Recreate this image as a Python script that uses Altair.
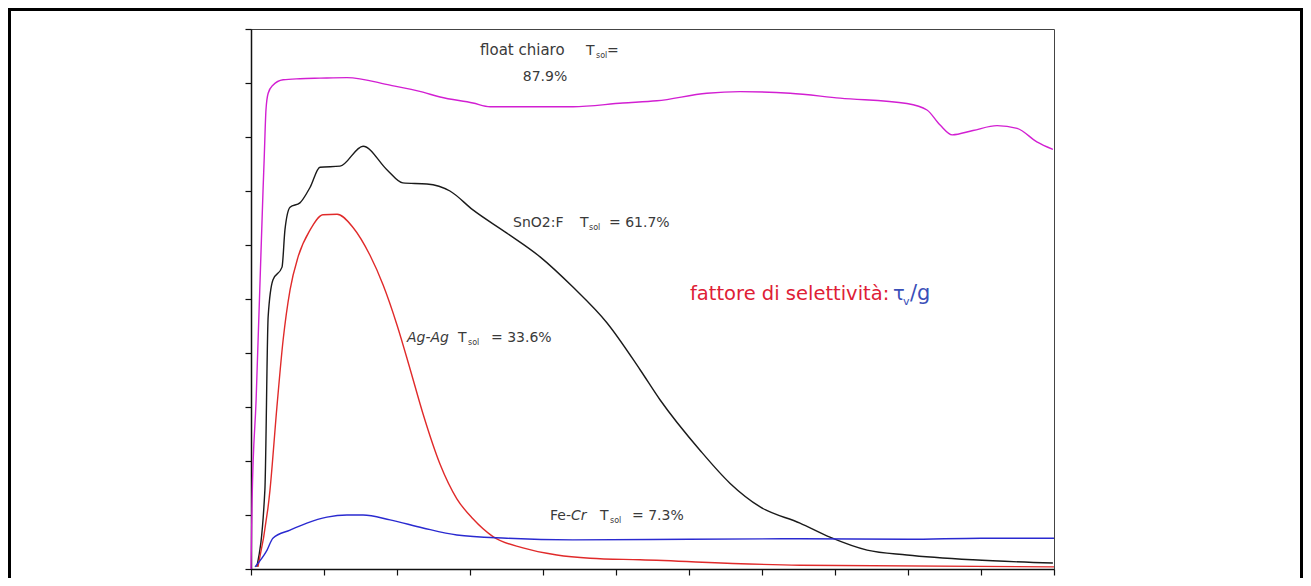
import altair as alt
import pandas as pd

# ---- data (wavelength nm, transmittance %) ----
float_nm = [300, 303, 314, 333, 336, 341, 347, 360, 388, 434, 489, 563, 681, 771, 818, 908, 955,
            1182, 1319, 1412, 1549, 1640, 1777, 1914, 2097, 2152, 2188, 2221, 2278, 2344, 2399, 2453, 2497]
float_t = [0, 12.8, 31.3, 70.2, 75.7, 85.0, 88.1, 89.6, 90.6, 90.8, 90.9, 91.0, 89.6, 88.3, 87.4, 86.3, 85.6,
           85.6, 86.3, 86.7, 88.1, 88.4, 88.1, 87.2, 86.2, 85.0, 82.2, 80.4, 81.2, 82.1, 81.6, 79.1, 77.7]

sno2_nm = [316, 338, 347, 360, 385, 393, 407, 434, 462, 489, 544, 607, 673, 716, 782, 845, 908, 1001,
           1092, 1182, 1275, 1366, 1421, 1530, 1612, 1695, 1804, 1886, 1988, 2097, 2278, 2497]
sno2_t = [0.4, 14.6, 46.7, 53.5, 55.9, 62.8, 67.0, 67.8, 70.7, 74.4, 74.6, 78.3, 73.9, 71.5, 71.3, 70.0,
          66.5, 62.2, 57.8, 52.2, 45.6, 36.9, 31.3, 22.0, 15.9, 11.5, 8.5, 5.9, 3.5, 2.6, 1.7, 1.1]

agag_nm = [319, 352, 371, 388, 407, 429, 462, 497, 536, 579, 626, 662, 700, 736, 771, 818, 864, 908,
           963, 1045, 1138, 1229, 1366, 1804, 2500]
agag_t = [0.4, 14.6, 30.0, 42.4, 51.7, 57.8, 62.8, 65.6, 65.7, 63.3, 58.1, 52.6, 45.2, 37.0, 28.8, 19.4,
          13.0, 9.3, 6.0, 3.9, 2.6, 2.0, 1.7, 0.7, 0.4]

fecr_nm = [311, 344, 360, 407, 453, 508, 563, 607, 681, 771, 864, 1001, 1182, 1500, 1804, 2100, 2300, 2500]
fecr_t = [0.4, 3.5, 5.7, 7.2, 8.5, 9.6, 10.0, 10.0, 9.1, 7.6, 6.3, 5.7, 5.4, 5.5, 5.6, 5.5, 5.7, 5.7]

series_names = ["float chiaro", "SnO2:F", "Ag-Ag", "Fe-Cr"]
series_colors = ["#d21fd2", "#1a1a1a", "#e02a2a", "#2a2ad0"]

x_ticks = list(range(300, 2501, 200))
y_ticks = list(range(0, 101, 10))

rows = []
for name, xs, ys in [("float chiaro", float_nm, float_t), ("SnO2:F", sno2_nm, sno2_t),
                     ("Ag-Ag", agag_nm, agag_t), ("Fe-Cr", fecr_nm, fecr_t)]:
    for i, (a, b) in enumerate(zip(xs, ys)):
        rows.append({"serie": name, "nm": a, "T": b, "i": i})
df = pd.DataFrame(rows)

# plot-area origin in page pixels
OX, OY = 251, 29

lines = alt.Chart(df).mark_line(strokeWidth=1.4, interpolate="monotone").encode(
    x=alt.X("nm:Q", scale=alt.Scale(domain=[300, 2500], nice=False, zero=False),
            axis=alt.Axis(values=x_ticks, labels=False, title=None, grid=False, tickSize=6,
                          domainColor="#111", tickColor="#111", domainWidth=1.5, tickWidth=1.2)),
    y=alt.Y("T:Q", scale=alt.Scale(domain=[0, 100], nice=False),
            axis=alt.Axis(values=y_ticks, labels=False, title=None, grid=False, tickSize=6,
                          domainColor="#111", tickColor="#111", domainWidth=1.5, tickWidth=1.2)),
    color=alt.Color("serie:N", scale=alt.Scale(domain=series_names, range=series_colors), legend=None),
    detail="serie:N",
    order="i:Q",
)

one = pd.DataFrame({"k": [0]})
FONT = "DejaVu Sans"
GREY = "#3a3a3a"
S = 14


def txt(s, px, py, size=S, color=GREY, align="left", style="normal", weight="normal"):
    return alt.Chart(one).mark_text(
        text=s, align=align, baseline="alphabetic", fontSize=size, font=FONT, color=color,
        fontStyle=style, fontWeight=weight,
    ).encode(x=alt.value(px - OX), y=alt.value(py - OY))


texts = [
    txt("float chiaro", 480, 55, size=15),
    txt("T", 586, 55),
    txt("sol", 596, 58, size=8),
    txt("=", 607, 55),
    txt("87.9%", 545, 81, align="center"),
    txt("SnO2:F", 513, 227),
    txt("T", 580, 227),
    txt("sol", 589, 230, size=8),
    txt("= 61.7%", 609, 227),
    txt("Ag-Ag", 407, 342, style="italic"),
    txt("T", 458, 342),
    txt("sol", 468, 345, size=8),
    txt("= 33.6%", 491, 342),
    txt("Fe-", 550, 520),
    txt("Cr", 571, 520, style="italic"),
    txt("T", 600, 520),
    txt("sol", 610, 523, size=8),
    txt("= 7.3%", 632, 520),
    txt("fattore di selettività:", 690, 300, size=19.5, color="#de2035"),
    txt("τ", 893, 300, size=19.5, color="#3a4fb8"),
    txt("v", 903, 305, size=11, color="#3a4fb8"),
    txt("/g", 910, 300, size=21, color="#3a4fb8"),
]

frame = alt.Chart(one).mark_rect(fillOpacity=0, stroke="#000", strokeWidth=3).encode(
    x=alt.value(9.5 - OX), x2=alt.value(1301.5 - OX), y=alt.value(9.5 - OY), y2=alt.value(640)
)

chart = alt.layer(lines, *texts, frame).properties(
    width=803, height=540,
    autosize=alt.AutoSizeParams(type="none"),
    padding={"left": 243, "top": 21, "right": 249, "bottom": 9},
    background="white",
).configure_view(stroke="#444", strokeWidth=1)

chart.save("out.html", embed_options={"renderer": "svg", "actions": False})
